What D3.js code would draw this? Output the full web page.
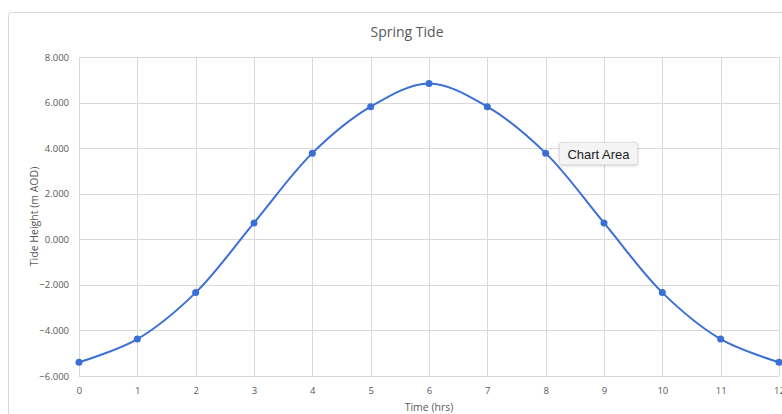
<!DOCTYPE html>
<html>
<head>
<meta charset="utf-8">
<script src="https://cdn.jsdelivr.net/npm/d3@7"></script>
<style>
  body { margin: 0; background: #fff; font-family: "Open Sans", sans-serif; }
  .canvas { position: relative; width: 782px; height: 414px; overflow: hidden; }
  .tip {
    position: absolute; left: 559px; top: 142px; width: 79px; height: 23px;
    background: #f4f4f4; border: 1px solid #e0e0e0; box-shadow: 0 1px 3px rgba(0,0,0,0.18);
    font: 13px "Liberation Sans", sans-serif; color: #222; line-height: 23px;
    text-align: center; box-sizing: border-box; border-radius: 2px;
  }
</style>
</head>
<body>
<div class="canvas"></div>
<script>
const hours = [0, 1, 2, 3, 4, 5, 6, 7, 8, 9, 10, 11, 12];
const tideHeight = [-5.4, -4.38, -2.34, 0.72, 3.78, 5.82, 6.84, 5.82, 3.78, 0.72, -2.34, -4.38, -5.4];
const yTicks = [-6, -4, -2, 0, 2, 4, 6, 8];
const xTicks = hours;

const margin = { top: 57, bottom: 38, left: 79, right: 3 };
const graphWidth = 782 - margin.left - margin.right;
const graphHeight = 414 - margin.top - margin.bottom;

const svg = d3
  .select(".canvas")
  .append("svg")
  .attr("width", 782)
  .attr("height", 414);

// chart container border
svg
  .append("rect")
  .attr("x", 8.5)
  .attr("y", 12.5)
  .attr("width", 800)
  .attr("height", 420)
  .attr("rx", 3)
  .attr("fill", "#fff")
  .attr("stroke", "#d9d9d9");

svg
  .append("text")
  .attr("x", 407)
  .attr("y", 37)
  .attr("text-anchor", "middle")
  .attr("fill", "#595959")
  .style("font-size", "14px")
  .text("Spring Tide");

const graph = svg
  .append("g")
  .attr("transform", `translate(${margin.left},${margin.top})`);

// scales
const x = d3.scaleLinear().domain([0, 12]).range([0, graphWidth]);
const y = d3.scaleLinear().domain([-6, 8]).range([graphHeight, 0]);

// gridlines
graph
  .append("g")
  .selectAll("line")
  .data(yTicks)
  .join("line")
  .attr("x1", 0)
  .attr("x2", graphWidth)
  .attr("y1", (d) => Math.round(y(d)) + 0.5)
  .attr("y2", (d) => Math.round(y(d)) + 0.5)
  .attr("stroke", "#d9d9d9");

graph
  .append("g")
  .selectAll("line")
  .data(xTicks)
  .join("line")
  .attr("x1", (d) => Math.round(x(d)) + 0.5)
  .attr("x2", (d) => Math.round(x(d)) + 0.5)
  .attr("y1", 0)
  .attr("y2", graphHeight)
  .attr("stroke", "#d9d9d9");

// axes
const xAxis = d3.axisBottom(x).tickValues(xTicks).tickSize(0).tickPadding(11);
const yAxis = d3
  .axisLeft(y)
  .tickValues(yTicks)
  .tickSize(0)
  .tickPadding(10)
  .tickFormat(d3.format(".3f"));

const xAxisGroup = graph
  .append("g")
  .attr("transform", `translate(0,${graphHeight})`)
  .call(xAxis);
const yAxisGroup = graph.append("g").call(yAxis);

[xAxisGroup, yAxisGroup].forEach((g) => {
  g.select(".domain").remove();
  g.selectAll("text")
    .attr("fill", "#595959")
    .style("font-family", "Open Sans, sans-serif")
    .style("font-size", "9.5px");
});

// axis titles
svg
  .append("text")
  .attr("transform", `translate(38,${margin.top + graphHeight / 2}) rotate(-90)`)
  .attr("text-anchor", "middle")
  .attr("fill", "#595959")
  .style("font-size", "10.5px")
  .text("Tide Height (m AOD)");

svg
  .append("text")
  .attr("x", margin.left + graphWidth / 2)
  .attr("y", 411)
  .attr("text-anchor", "middle")
  .attr("fill", "#595959")
  .style("font-size", "10.5px")
  .text("Time (hrs)");

// smoothed line
const line = d3
  .line()
  .x((d, i) => x(hours[i]))
  .y((d) => y(d))
  .curve(d3.curveCatmullRom.alpha(0.5));

graph
  .append("path")
  .datum(tideHeight)
  .attr("fill", "none")
  .attr("stroke", "#3b6fd6")
  .attr("stroke-width", 2)
  .attr("d", line);

graph
  .selectAll("circle")
  .data(tideHeight)
  .join("circle")
  .attr("cx", (d, i) => x(hours[i]))
  .attr("cy", (d) => y(d))
  .attr("r", 3.5)
  .attr("fill", "#3b6fd6");

// hover tooltip as in the screenshot
d3.select(".canvas").append("div").attr("class", "tip").text("Chart Area");
</script>
</body>
</html>
